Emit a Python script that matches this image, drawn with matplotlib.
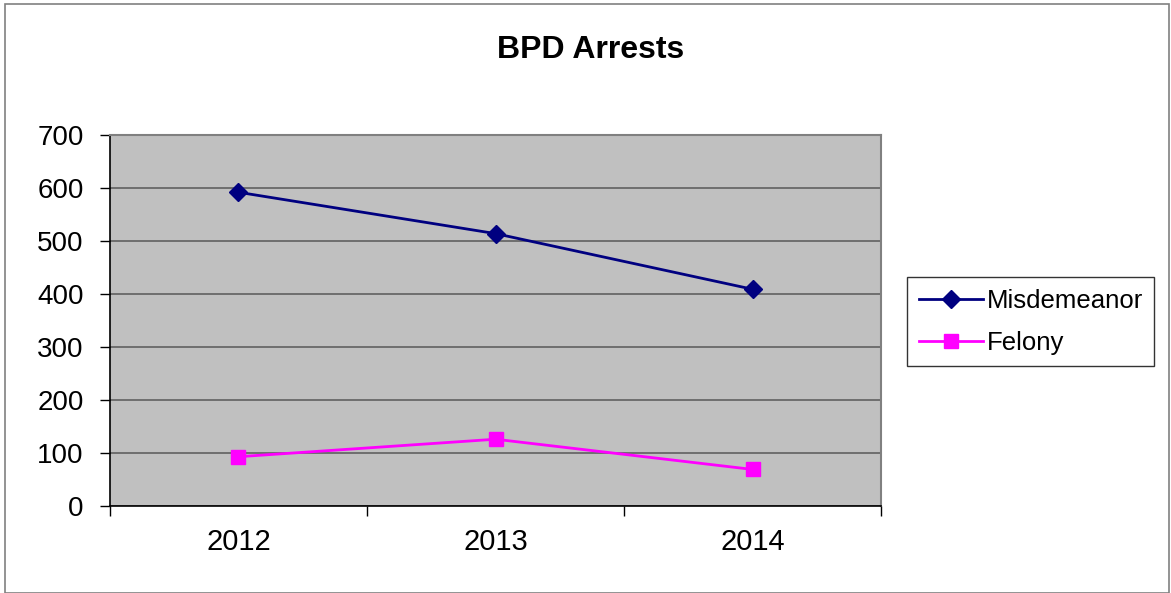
import matplotlib.pyplot as plt
from matplotlib.patches import Rectangle

plt.rcParams['font.family'] = ['Liberation Sans', 'DejaVu Sans']

years = ['2012', '2013', '2014']
misdemeanor = [592, 514, 409]
felony = [93, 126, 69]
yticks = [0, 100, 200, 300, 400, 500, 600, 700]

fig = plt.figure(figsize=(11.71, 5.93), dpi=100)
fig.patches.append(Rectangle((0.004, 0.0), 0.994, 0.994, transform=fig.transFigure,
                             fill=False, edgecolor='#808080', linewidth=1.2))

ax = fig.add_axes([0.0939, 0.1467, 0.6585, 0.6256])
ax.set_facecolor('#C0C0C0')

x = list(range(len(years)))
ax.plot(x, misdemeanor, color='#000080', linewidth=2, marker='D', markersize=9,
        label='Misdemeanor', zorder=3)
ax.plot(x, felony, color='#FF00FF', linewidth=2, marker='s', markersize=10.5,
        label='Felony', zorder=3)

ax.set_xlim(-0.5, len(years) - 0.5)
ax.set_ylim(0, 700)
ax.set_yticks(yticks)
ax.tick_params(axis='y', labelsize=20, length=7, direction='out', width=1, pad=12)
ax.yaxis.grid(True, color='#606060', linewidth=1.2)
ax.set_axisbelow(True)

# category labels centred, tick marks on the boundaries
ax.set_xticks([i - 0.5 for i in range(len(years) + 1)])
ax.set_xticklabels([])
ax.set_xticks(x, minor=True)
ax.set_xticklabels(years, minor=True)
ax.tick_params(axis='x', which='major', length=7, width=1, direction='out')
ax.tick_params(axis='x', which='minor', length=0, labelsize=21, pad=16)

for side in ['top', 'right']:
    ax.spines[side].set_color('#808080')
    ax.spines[side].set_linewidth(1.5)
for side in ['left', 'bottom']:
    ax.spines[side].set_color('black')
    ax.spines[side].set_linewidth(1.2)

fig.text(0.504, 0.915, 'BPD Arrests', ha='center', va='center',
         fontsize=23, fontweight='bold')

leg = ax.legend(loc='upper left', bbox_to_anchor=(907 / 1171, 1 - 277 / 593),
                bbox_transform=fig.transFigure, fontsize=18.5, frameon=True,
                fancybox=False, handlelength=2.5, handletextpad=0.15,
                borderpad=0.45, labelspacing=0.7, borderaxespad=0)
leg.get_frame().set_edgecolor('black')
leg.get_frame().set_linewidth(1)

fig.savefig('out.png', dpi=100)
